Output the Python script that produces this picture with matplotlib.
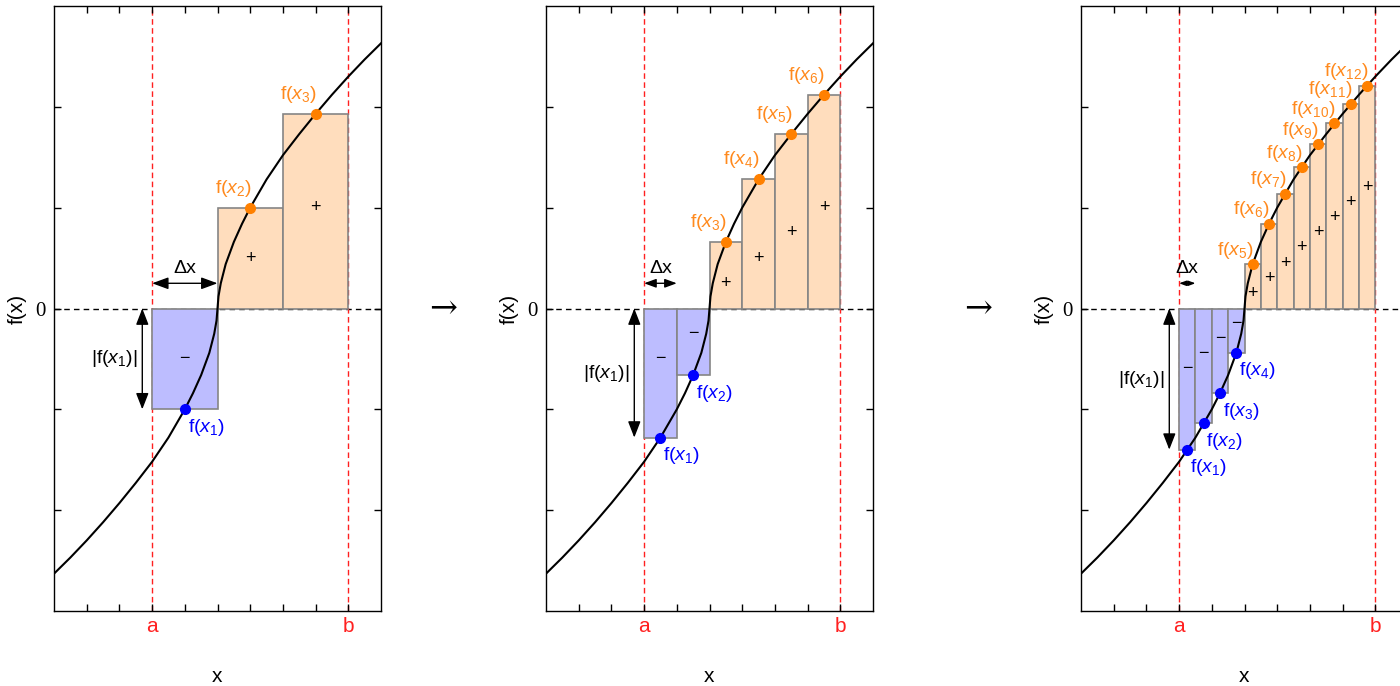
import matplotlib
matplotlib.use("Agg")
import matplotlib.pyplot as plt

# ---------------- data ----------------
A_BOUND = 3.0
B_BOUND = 9.0

curve_x = [0.0, 0.5, 1.0, 1.5, 2.0, 2.5, 3.0, 3.5, 4.0, 4.25, 4.5, 4.75, 4.9, 4.97, 5.0,
           5.03, 5.1, 5.25, 5.5, 5.75, 6.0, 6.5, 7.0, 7.5, 8.0, 8.5, 9.0, 9.5, 10.0]
curve_y = [-2.63, -2.47, -2.30, -2.12, -1.93, -1.73, -1.52, -1.28, -1.00, -0.84, -0.66, -0.44, -0.25, -0.12, 0.0,
           0.12, 0.25, 0.44, 0.66, 0.84, 1.00, 1.28, 1.52, 1.73, 1.93, 2.12, 2.30, 2.47, 2.63]

panel_n = [3, 6, 12]
mid_heights = [
    [-1.00, 1.00, 1.93],
    [-1.28, -0.66, 0.66, 1.28, 1.73, 2.12],
    [-1.40, -1.14, -0.84, -0.44, 0.44, 0.84, 1.14, 1.40, 1.63, 1.84, 2.03, 2.21],
]
sign_y = [
    [-0.50, 0.50, 1.00],
    [-0.50, -0.25, 0.25, 0.50, 0.75, 1.00],
    [-0.60, -0.45, -0.30, -0.15, 0.15, 0.30, 0.45, 0.60, 0.75, 0.90, 1.05, 1.20],
]

x_ticks = [1, 2, 3, 4, 5, 6, 7, 8, 9]
x_tick_labels = ["", "", "a", "", "", "", "", "", "b"]
y_ticks = [-2, -1, 0, 1, 2]
y_tick_labels = ["", "", "0", "", ""]

# ---------------- style ----------------
plt.rcParams["font.family"] = ["Liberation Sans", "DejaVu Sans"]
plt.rcParams["mathtext.fontset"] = "custom"
plt.rcParams["mathtext.rm"] = "Liberation Sans"
plt.rcParams["mathtext.it"] = "Liberation Sans:italic"
plt.rcParams["mathtext.bf"] = "Liberation Sans:bold"

NEG_FILL = "#BDBDFF"
POS_FILL = "#FFDDBD"
EDGE = "#858585"
BLUE = "#0000FF"
ORANGE = "#FF8000"
ORANGE_TXT = "#FF8A1E"

W, H = 1400, 686
fig = plt.figure(figsize=(W / 100, H / 100), dpi=100)

panel_left_px = [54, 546, 1081]
dx_arrow_scale = [11, 8, 4.5]
pos_label_off = [14, 14, 10]
LABEL_FS = 14

for k, left_px in enumerate(panel_left_px):
    ax = fig.add_axes([left_px / W, (H - 611) / H, 327 / W, 605 / H])
    ax.set_xlim(0, 10)
    ax.set_ylim(-3, 3)

    n = panel_n[k]
    heights = mid_heights[k]
    dx = (B_BOUND - A_BOUND) / n
    lefts = [A_BOUND + i * dx for i in range(n)]
    mids = [l + dx / 2 for l in lefts]

    # dashed reference lines
    ax.axhline(0, color="black", lw=1.0, ls=(0, (4, 3)), zorder=1)
    ax.axvline(A_BOUND, color="#FF2020", lw=1.0, ls=(0, (4, 2.5)), zorder=1.5)
    ax.axvline(B_BOUND, color="#FF2020", lw=1.0, ls=(0, (4, 2.5)), zorder=1.5)

    # rectangles
    colors = [NEG_FILL if h < 0 else POS_FILL for h in heights]
    ax.bar(lefts, heights, width=dx, align="edge", color=colors,
           edgecolor=EDGE, linewidth=1.2, zorder=2)

    # curve
    ax.plot(curve_x, curve_y, color="black", lw=1.5, zorder=4)

    # markers + labels + signs
    for i, (m, h) in enumerate(zip(mids, heights)):
        lab = r"f($x_{%d}$)" % (i + 1)
        if h < 0:
            ax.plot([m], [h], "o", color=BLUE, ms=7, zorder=5)
            ax.annotate(lab, (m, h), xytext=(2, -13), textcoords="offset points",
                        ha="left", va="center", color=BLUE, fontsize=LABEL_FS, zorder=6)
            ax.text(m, sign_y[k][i], "\u2212", ha="center", va="center",
                    fontsize=13, color="black", zorder=3)
        else:
            ax.plot([m], [h], "o", color=ORANGE, ms=7, zorder=5)
            ax.annotate(lab, (m, h), xytext=(1, pos_label_off[k]), textcoords="offset points",
                        ha="right", va="center", color=ORANGE_TXT, fontsize=LABEL_FS, zorder=6)
            ax.text(m, sign_y[k][i], "+", ha="center", va="center",
                    fontsize=13, color="black", zorder=3)

    # Delta x arrow
    ms = dx_arrow_scale[k]
    ax.annotate("", xy=(A_BOUND, 0.25), xytext=(A_BOUND + dx, 0.25),
                arrowprops=dict(arrowstyle="<|-|>,head_length=0.9,head_width=0.33",
                                color="black", lw=1.0, shrinkA=0, shrinkB=0,
                                mutation_scale=ms), zorder=6)
    ax.text(A_BOUND + dx / 2, 0.40, "\u0394x", ha="center", va="center", fontsize=LABEL_FS)

    # |f(x1)| arrow
    f1 = heights[0]
    ax.annotate("", xy=(A_BOUND - 0.3, 0), xytext=(A_BOUND - 0.3, f1),
                arrowprops=dict(arrowstyle="<|-|>,head_length=0.9,head_width=0.35",
                                color="black", lw=1.0, shrinkA=0, shrinkB=0,
                                mutation_scale=11), zorder=6)
    ax.text(A_BOUND - 0.45, f1 / 2, r"|f($x_1$)|", ha="right", va="center", fontsize=LABEL_FS)

    # ticks
    ax.set_xticks(x_ticks)
    ax.set_xticklabels(x_tick_labels, fontsize=15, color="#FF2020")
    ax.set_yticks(y_ticks)
    ax.set_yticklabels(y_tick_labels, fontsize=15, family=["Liberation Serif", "DejaVu Serif"])
    ax.tick_params(direction="in", length=5, width=1, top=True, right=True, pad=4)
    ax.tick_params(axis="y", pad=6)
    for s in ax.spines.values():
        s.set_linewidth(1.0)

    ax.set_xlabel("x", fontsize=15)
    ax.set_ylabel("f(x)", fontsize=15)
    ax.xaxis.set_label_coords(0.5, -(667 - 611) / 605)
    ax.yaxis.set_label_coords(-27 / 327, 0.5)

# arrows between panels
for xc in [443, 978]:
    fig.text(xc / W, 1 - 309 / H, "\u2192", ha="center", va="center", fontsize=24,
             family=["DejaVu Serif"])

fig.savefig("out.png", dpi=100)
